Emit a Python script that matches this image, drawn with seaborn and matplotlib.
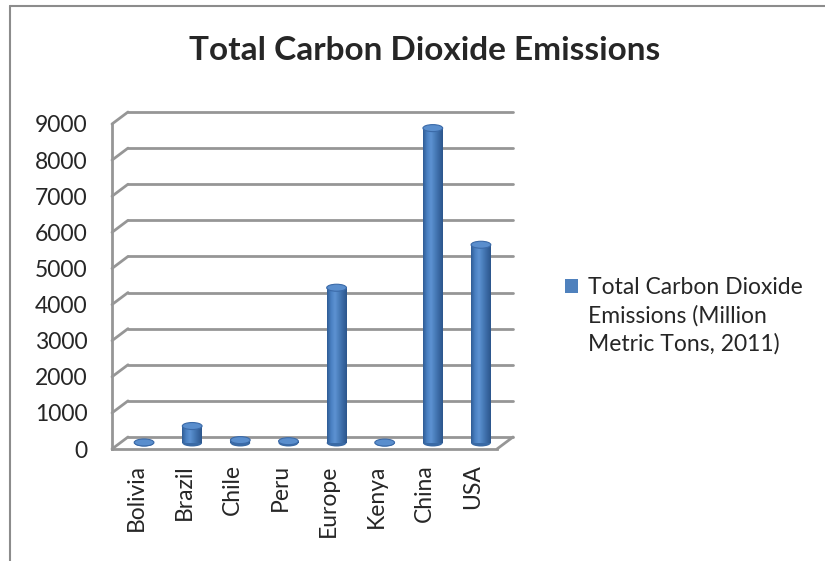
import matplotlib
matplotlib.use("Agg")
import matplotlib.pyplot as plt
import matplotlib.transforms as mtransforms
from matplotlib.patches import Ellipse, Patch
from matplotlib.lines import Line2D
from matplotlib.colors import LinearSegmentedColormap
import numpy as np
import pandas as pd
import seaborn as sns

categories = ["Bolivia", "Brazil", "Chile", "Peru", "Europe", "Kenya", "China", "USA"]
values = [15, 470, 80, 50, 4300, 12, 8720, 5490]
yticks = [0, 1000, 2000, 3000, 4000, 5000, 6000, 7000, 8000, 9000]
title = "Total Carbon Dioxide Emissions"
legend_lines = ["Total Carbon Dioxide", "Emissions (Million", "Metric Tons, 2011)"]

sns.set_style("white")
plt.rcParams["font.family"] = ["Lato", "DejaVu Sans"]

W, H = 825, 561
fig = plt.figure(figsize=(W / 100, H / 100), dpi=100)
ax = fig.add_axes([112 / W, 1 - 449 / H, (497 - 112) / W, (449 - 124) / H])

df = pd.DataFrame({"country": categories, "value": values})
bar_color = "#4a7ebb"
sns.barplot(data=df, x="country", y="value", color=bar_color, width=0.41,
            saturation=1, ax=ax, zorder=3)

ax.set_ylim(0, 9000)
ax.set_xlim(-0.5, len(categories) - 0.5)
ax.set_xlabel("")
ax.set_ylabel("")

# 3D-style depth offset (pixels)
dx, dy = 16, 12
grid_c = "#969696"
back = mtransforms.offset_copy(ax.transData, fig=fig, x=dx, y=dy, units="dots")
mid = mtransforms.offset_copy(ax.transData, fig=fig, x=dx / 2, y=dy / 2, units="dots")
inv = ax.transData.inverted()

x0, x1 = -0.5, len(categories) - 0.5
for yv in yticks:
    ax.plot([x0, x1], [yv, yv], transform=back, color=grid_c, lw=2, clip_on=False, zorder=1)
    p_front = ax.transData.transform((x0, yv))
    a = inv.transform(p_front)
    b = inv.transform(p_front + np.array([dx, dy]))
    ax.plot([a[0], b[0]], [a[1], b[1]], color=grid_c, lw=2, clip_on=False, zorder=1)

p_front = ax.transData.transform((x1, 0))
a = inv.transform(p_front)
b = inv.transform(p_front + np.array([dx, dy]))
ax.plot([a[0], b[0]], [a[1], b[1]], color=grid_c, lw=2, clip_on=False, zorder=1)

# cylinders
px_per_unit = ax.transData.transform((0, 1000))[1] - ax.transData.transform((0, 0))[1]
cap_h = 7 / px_per_unit * 1000
xg = np.linspace(0, 1, 64)
cmap = LinearSegmentedColormap.from_list(
    "cyl", ["#2f5c95", "#4a80c2", "#5d92d2", "#4a7ebb", "#3a68a3", "#2c568c"])
for patch in ax.patches:
    patch.set_transform(mid)
    patch.set_edgecolor("none")
    xl = patch.get_x()
    w = patch.get_width()
    h = patch.get_height()
    im = ax.imshow(xg[None, :], cmap=cmap, aspect="auto",
                   extent=(xl, xl + w, 0, h), transform=mid, zorder=3, clip_on=False)
    im.set_clip_path(patch)
    ax.add_patch(Ellipse((xl + w / 2, 0), w, cap_h, transform=mid,
                         facecolor="#3a6aa5", edgecolor="none", zorder=2.9, clip_on=False))
    ax.add_patch(Ellipse((xl + w / 2, h), w, cap_h, transform=mid,
                         facecolor="#5a8ecd", edgecolor="#3b6aa8", lw=0.8, zorder=4, clip_on=False))
ax.set_xlim(-0.5, len(categories) - 0.5)
ax.set_ylim(0, 9000)

for s in ["top", "right"]:
    ax.spines[s].set_visible(False)
for s in ["left", "bottom"]:
    ax.spines[s].set_color(grid_c)
    ax.spines[s].set_linewidth(2)
ax.set_yticks(yticks)
ax.set_yticklabels([str(v) for v in yticks], fontsize=16.5)
ax.set_xticks(np.arange(len(categories) + 1) - 0.5, minor=True)
ax.set_xticks(np.arange(len(categories)))
ax.set_xticklabels(categories, rotation=90, fontsize=16.5)
ax.tick_params(axis="x", which="major", length=0, pad=11)
ax.tick_params(axis="x", which="minor", length=5, width=2, color=grid_c, direction="out")
ax.tick_params(axis="y", length=6.5, width=2, color=grid_c, direction="out", pad=11)
ax.grid(False)

fig.text(425 / W, 1 - 51 / H, title, ha="center", va="center", fontsize=24, fontweight="bold")

leg = fig.legend(handles=[Patch(facecolor="#4f81bd", edgecolor="none")], labels=[legend_lines[0]],
                 loc="upper left", bbox_to_anchor=(565 / W, 1 - 277 / H), frameon=False,
                 fontsize=16.5, handlelength=0.55, handleheight=0.55, handletextpad=0.45,
                 borderaxespad=0, borderpad=0)
fig.canvas.draw()
tb = leg.get_texts()[0].get_window_extent()
fig.text(tb.x0 / W, (tb.y0 - 7) / H, "\n".join(legend_lines[1:]), ha="left", va="top",
         fontsize=16.5, linespacing=1.35)

# chart frame (top and left edges visible)
fig.add_artist(Line2D([10 / W, 1], [1 - 6 / H, 1 - 6 / H], transform=fig.transFigure,
                      color="#8c8c8c", lw=1.5))
fig.add_artist(Line2D([10 / W, 10 / W], [0, 1 - 6 / H], transform=fig.transFigure,
                      color="#8c8c8c", lw=1.5))

fig.savefig("out.png", dpi=100)
